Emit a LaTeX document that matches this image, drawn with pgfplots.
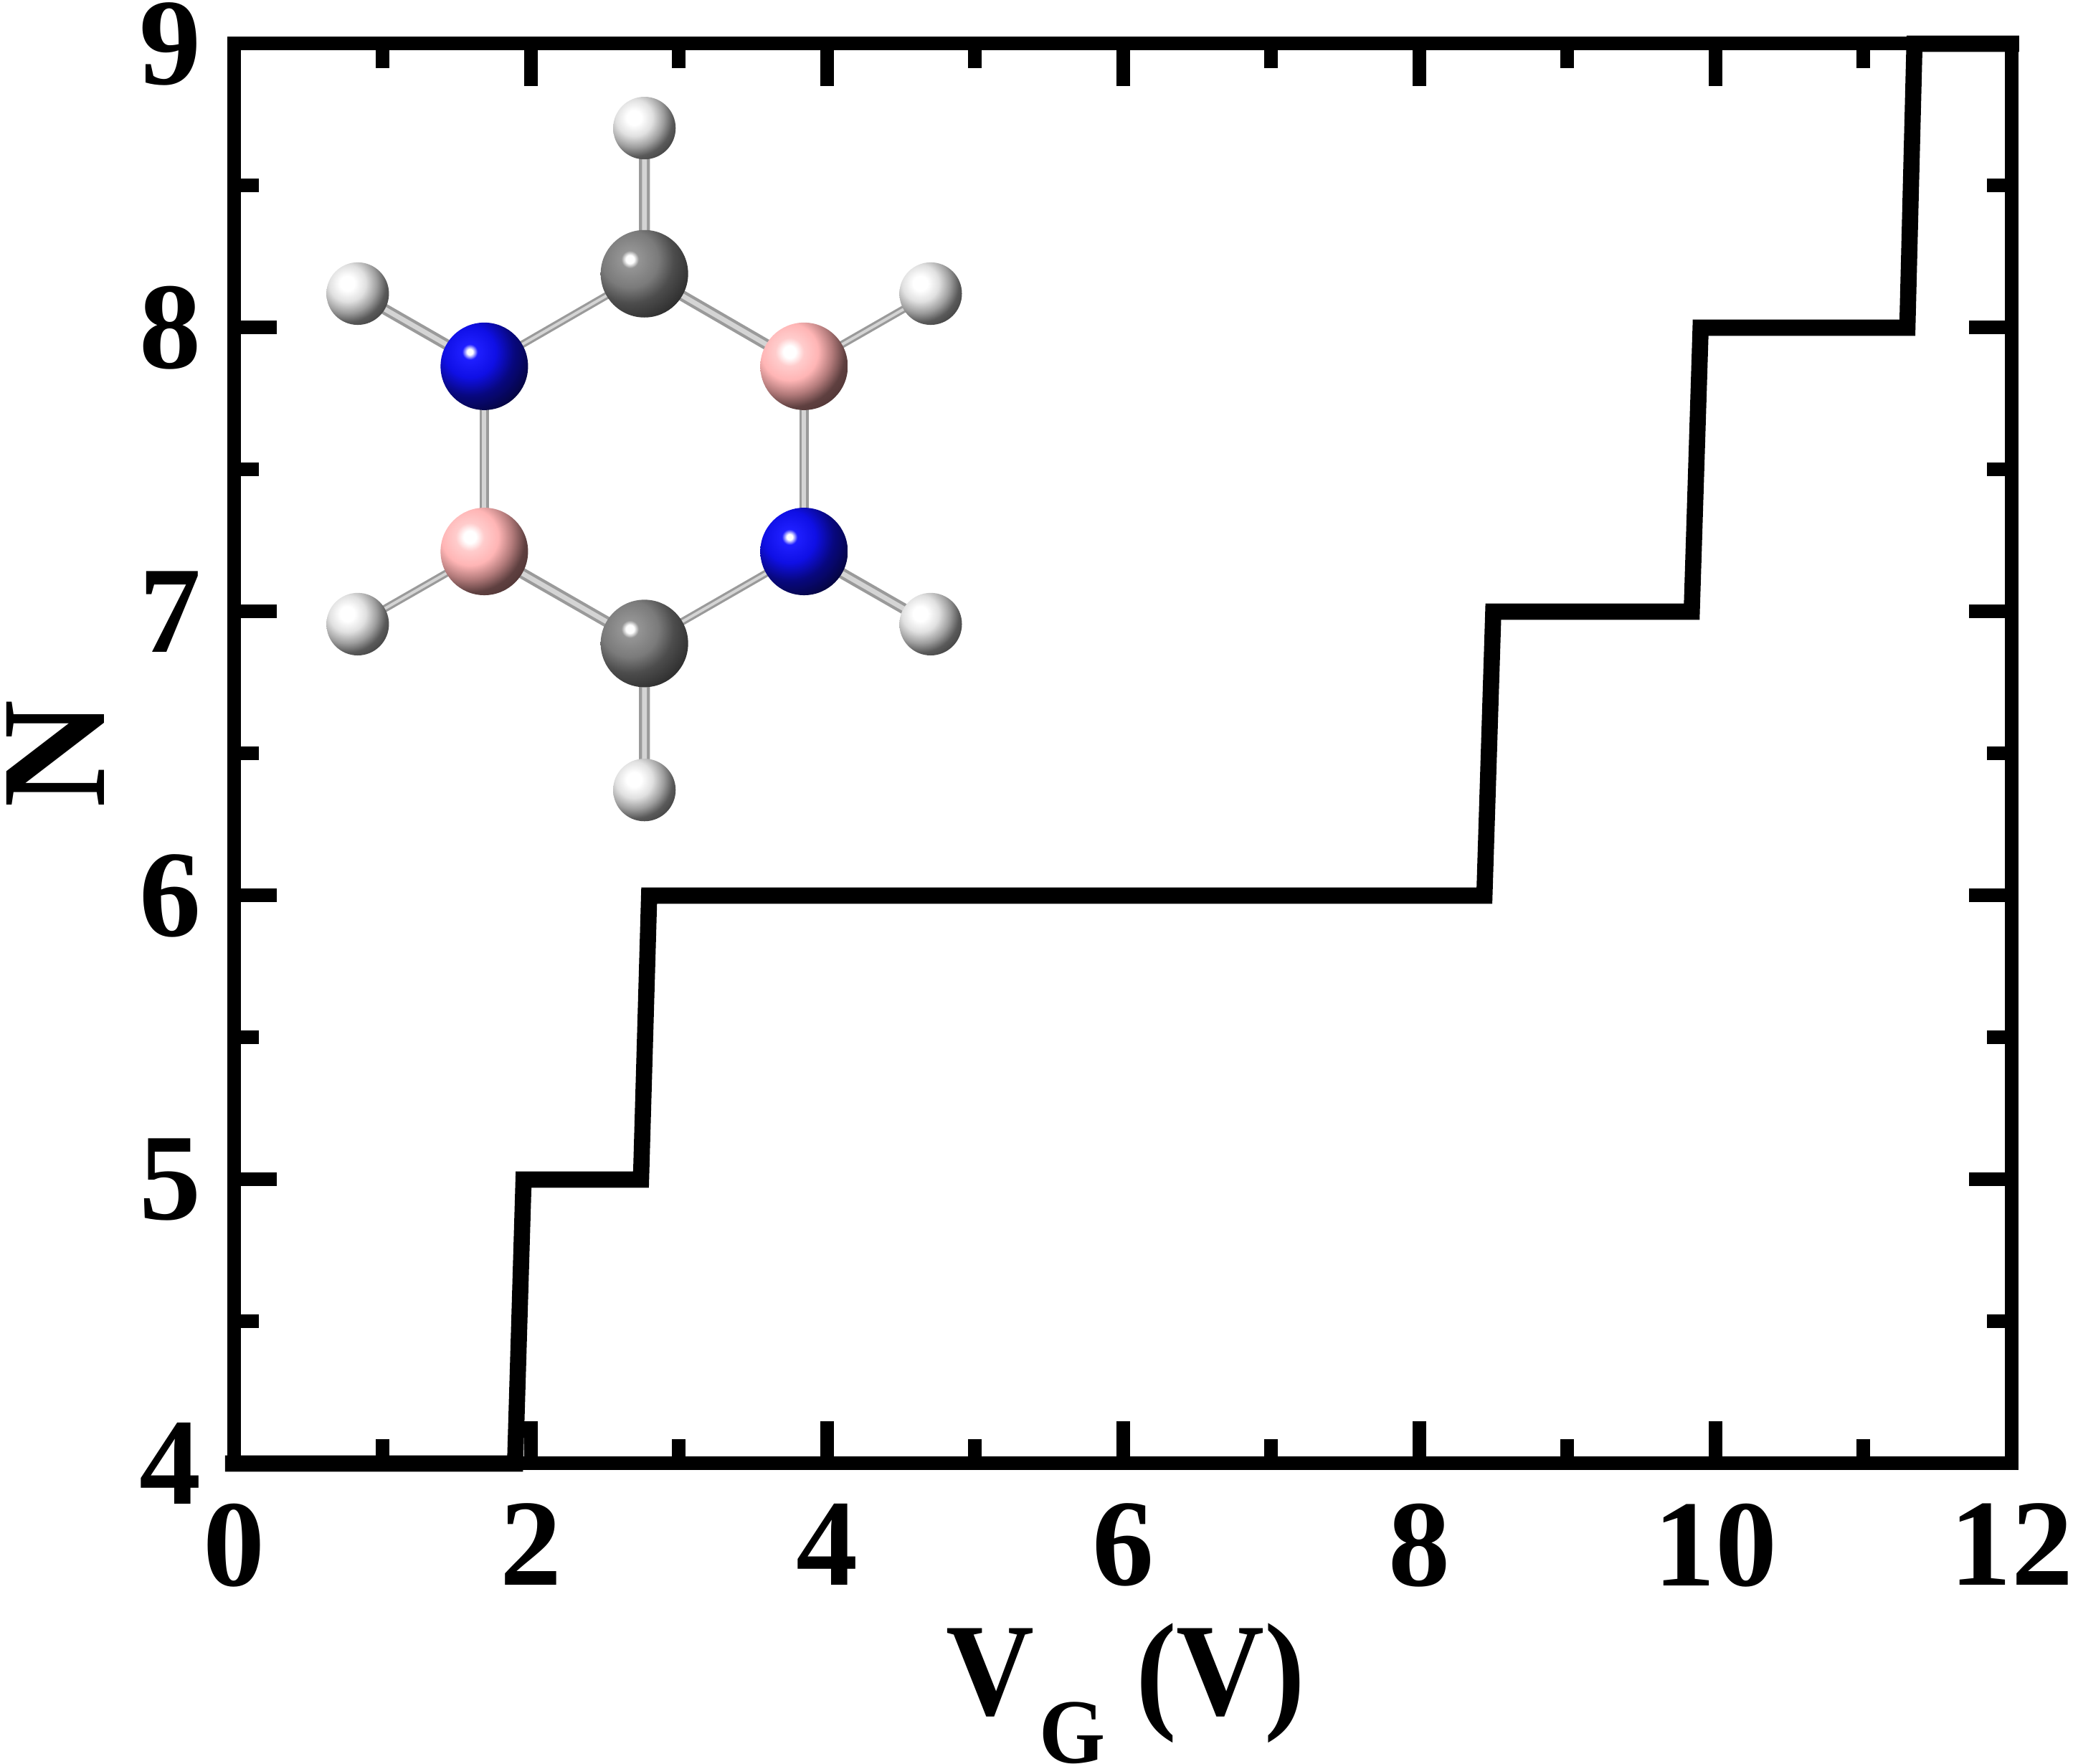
\documentclass[border=0pt]{standalone}
\usepackage{fontspec}
\setmainfont{Liberation Serif}
\usepackage{graphicx}
\usepackage{pgfplots}
\usepackage{pgfplotstable}
\pgfplotsset{compat=1.18}

% atoms: concentric shading around the highlight, clipped to the ball
% (shadepath fits the circle in the inner 25bp radius)
\pgfdeclareradialshading{shC}{\pgfpointorigin}{rgb(0bp)=(1,1,1); rgb(1.6bp)=(1,1,1); rgb(3.4bp)=(0.58,0.58,0.58); rgb(11bp)=(0.48,0.48,0.48); rgb(17bp)=(0.3,0.3,0.3); rgb(25bp)=(0.18,0.18,0.18); rgb(50bp)=(0.18,0.18,0.18)}
\pgfdeclareradialshading{shH}{\pgfpointorigin}{rgb(0bp)=(1,1,1); rgb(4bp)=(1,1,1); rgb(10bp)=(0.88,0.88,0.88); rgb(16bp)=(0.62,0.62,0.62); rgb(21bp)=(0.35,0.35,0.35); rgb(25bp)=(0.28,0.28,0.28); rgb(50bp)=(0.28,0.28,0.28)}
\pgfdeclareradialshading{shN}{\pgfpointorigin}{rgb(0bp)=(1,1,1); rgb(1.1bp)=(1,1,1); rgb(3bp)=(0.12,0.12,1); rgb(10bp)=(0.06,0.06,0.9); rgb(17bp)=(0.03,0.03,0.5); rgb(25bp)=(0.02,0.02,0.25); rgb(50bp)=(0.02,0.02,0.25)}
\pgfdeclareradialshading{shB}{\pgfpointorigin}{rgb(0bp)=(1,1,1); rgb(2.4bp)=(1,1,1); rgb(5.5bp)=(1,0.8,0.8); rgb(11bp)=(1,0.71,0.71); rgb(16.5bp)=(0.7,0.48,0.48); rgb(21.5bp)=(0.37,0.25,0.25); rgb(25bp)=(0.33,0.22,0.22); rgb(50bp)=(0.33,0.22,0.22)}
\newcommand{\atommark}[1]{%
  \pgfscope
  \pgfpathcircle{\pgfpointorigin}{\pgfplotmarksize}\pgfusepath{clip}%
  \pgfpathcircle{\pgfpoint{-0.33\pgfplotmarksize}{0.33\pgfplotmarksize}}{1.47\pgfplotmarksize}%
  \pgfshadepath{#1}{0}\pgfusepath{discard}%
  \endpgfscope}
\pgfdeclareplotmark{atomC}{\atommark{shC}}
\pgfdeclareplotmark{atomH}{\atommark{shH}}
\pgfdeclareplotmark{atomN}{\atommark{shN}}
\pgfdeclareplotmark{atomB}{\atommark{shB}}

\definecolor{bondout}{HTML}{9A9A9A}
\definecolor{bondin}{HTML}{D4D4D4}

\pgfplotstableread{
x y
-0.063 4
1.895 4
1.952 5
2.745 5
2.800 6
8.440 6
8.500 7
9.840 7
9.900 8
11.296 8
11.344 9
12.05 9
}\steps

\pgfplotstableread{
x y
2.768 8.190
3.846 7.864
nan nan
1.687 7.212
2.768 6.888
nan nan
0.832 8.120
1.687 7.864
nan nan
3.846 7.212
4.701 6.956
nan nan
2.768 8.190
2.768 8.703
nan nan
2.768 6.888
2.768 6.372
}\bondsthick

\pgfplotstableread{
x y
1.687 7.864
1.687 7.212
nan nan
3.846 7.864
3.846 7.212
}\bondsmid

\pgfplotstableread{
x y
2.768 8.190
1.687 7.864
nan nan
2.768 6.888
3.846 7.212
nan nan
3.846 7.864
4.701 8.120
nan nan
1.687 7.212
0.832 6.956
}\bondsthin

\begin{document}
\begin{tikzpicture}
\path[use as bounding box] (-81.75pt,-104.75pt) rectangle (641pt,510.25pt);
\begin{axis}[
scale only axis,
width=619.6pt,
height=495pt,
xmin=0, xmax=12,
ymin=4, ymax=9,
xtick={0,2,...,12},
ytick={4,5,...,9},
minor x tick num=1,
minor y tick num=1,
tick align=inside,
major tick length=14.75pt,
minor tick length=8.5pt,
axis line style={line width=4.75pt},
every tick/.style={black,line width=4.75pt},
every minor tick/.style={black,line width=4.75pt},
clip=false,
unbounded coords=jump,
/pgf/number format/assume math mode=true,
tick label style={font=\bfseries\fontsize{43}{43}\selectfont,inner sep=0pt,outer sep=0pt},
x tick label style={yshift=-14pt},
y tick label style={xshift=-11.5pt},
xlabel={\scalebox{0.925}[1]{\fontsize{46}{46}\selectfont\bfseries V\hspace{2pt}\raisebox{-16.75pt}{\fontsize{32}{32}\selectfont G} (V)}},
ylabel={\fontsize{52}{52}\selectfont\bfseries N},
x label style={at={(axis description cs:0.5015,-0.1768)},anchor=base,inner sep=0pt},
y label style={at={(axis description cs:-0.0734,0.5)},rotate=0,anchor=base,inner sep=0pt},
]
\addplot[black,line width=5.65pt,line join=miter] table {\steps};

\addplot[bondout,line width=3.8pt] table {\bondsthick};
\addplot[bondin,line width=1.7pt] table {\bondsthick};
\addplot[bondout,line width=3.2pt] table {\bondsmid};
\addplot[bondin,line width=1.5pt] table {\bondsmid};
\addplot[bondout,line width=2.6pt] table {\bondsthin};
\addplot[bondin,line width=1pt] table {\bondsthin};

\addplot[only marks,mark=atomH,mark size=10.9pt] coordinates {
(2.768,8.703) (0.832,8.120) (4.701,8.120) (0.832,6.956) (4.701,6.956) (2.768,6.372)};
\addplot[only marks,mark=atomC,mark size=15.25pt] coordinates {(2.768,8.190) (2.768,6.888)};
\addplot[only marks,mark=atomN,mark size=15.25pt] coordinates {(1.687,7.864) (3.846,7.212)};
\addplot[only marks,mark=atomB,mark size=15.25pt] coordinates {(3.846,7.864) (1.687,7.212)};
\end{axis}
\end{tikzpicture}
\end{document}
